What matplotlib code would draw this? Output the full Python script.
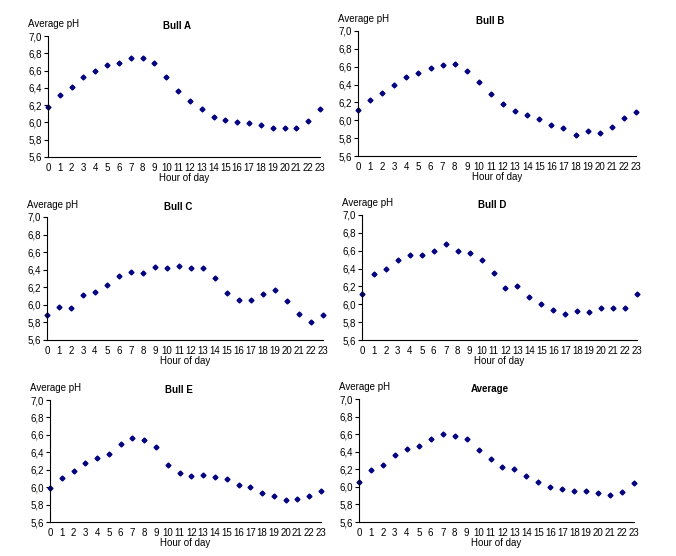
import numpy as np
import matplotlib
matplotlib.use("Agg")
import matplotlib.pyplot as plt
from matplotlib.ticker import FuncFormatter

plt.rcParams['font.family'] = ['Liberation Sans', 'DejaVu Sans']

hours = list(range(24))
bull_a = [6.18, 6.32, 6.41, 6.52, 6.60, 6.66, 6.69, 6.75, 6.75, 6.69, 6.52, 6.36,
          6.25, 6.15, 6.06, 6.03, 6.00, 5.99, 5.97, 5.94, 5.93, 5.94, 6.02, 6.15]
bull_b = [6.12, 6.23, 6.31, 6.39, 6.48, 6.53, 6.58, 6.62, 6.63, 6.55, 6.43, 6.29,
          6.18, 6.10, 6.06, 6.02, 5.95, 5.91, 5.84, 5.88, 5.86, 5.93, 6.03, 6.09]
bull_c = [5.89, 5.97, 5.96, 6.11, 6.15, 6.23, 6.33, 6.37, 6.36, 6.43, 6.42, 6.44,
          6.42, 6.42, 6.30, 6.13, 6.06, 6.06, 6.12, 6.17, 6.04, 5.90, 5.81, 5.89]
bull_d = [6.12, 6.34, 6.40, 6.50, 6.55, 6.55, 6.60, 6.67, 6.60, 6.58, 6.50, 6.35,
          6.18, 6.20, 6.08, 6.00, 5.94, 5.89, 5.92, 5.91, 5.96, 5.96, 5.96, 6.12]
bull_e = [5.99, 6.10, 6.19, 6.28, 6.34, 6.38, 6.49, 6.56, 6.54, 6.46, 6.25, 6.16,
          6.13, 6.14, 6.12, 6.09, 6.03, 6.00, 5.93, 5.90, 5.85, 5.86, 5.90, 5.96]
average = [6.06, 6.19, 6.25, 6.36, 6.43, 6.47, 6.54, 6.60, 6.58, 6.55, 6.42, 6.32,
           6.23, 6.20, 6.12, 6.05, 6.00, 5.97, 5.95, 5.95, 5.93, 5.91, 5.94, 6.04]

titles = ["Bull A", "Bull B", "Bull C", "Bull D", "Bull E", "Average"]
series = [bull_a, bull_b, bull_c, bull_d, bull_e, average]
yticks = [5.6, 5.8, 6.0, 6.2, 6.4, 6.6, 6.8, 7.0]

W, H = 676, 556
# axes boxes in pixels: left, right, top, bottom
boxes = [(48, 320, 36, 157), (358, 636, 31, 156),
         (47, 323, 217, 340), (362, 637, 215, 340),
         (50, 321, 400, 522), (359, 634, 399, 522)]

fig = plt.figure(figsize=(W / 100, H / 100), dpi=100)
comma = FuncFormatter(lambda v, p: "{:.1f}".format(v).replace(".", ","))

for (l, r, t, b), title, vals in zip(boxes, titles, series):
    ax = fig.add_axes([l / W, 1 - b / H, (r - l) / W, (b - t) / H])
    ax.plot(hours, vals, linestyle='none', marker='D', markersize=2.5,
            color='#000080', clip_on=False)
    ax.set_xlim(0, 23)
    ax.set_ylim(5.6, 7.0)
    ax.set_xticks(hours)
    ax.set_yticks(yticks)
    ax.yaxis.set_major_formatter(comma)
    for s in ['top', 'right']:
        ax.spines[s].set_visible(False)
    for s in ['left', 'bottom']:
        ax.spines[s].set_linewidth(0.8)
    ax.tick_params(labelsize=7, width=0.8)
    ax.tick_params(axis='y', length=3, pad=1.5)
    ax.tick_params(axis='x', length=0, pad=4)
    ax.set_xlabel("Hour of day", fontsize=7, labelpad=0)
    # title sits a bit left of the plot centre, like the original
    ax.set_title(title, fontsize=7, fontweight='bold', pad=5,
                 x=0.5 - 7 / (r - l))
    ax.annotate("Average pH", xy=(0, 1), xycoords='axes fraction',
                xytext=(-20, 12), textcoords='offset pixels',
                fontsize=7, ha='left', va='center')

fig.savefig("out.png", dpi=100)
